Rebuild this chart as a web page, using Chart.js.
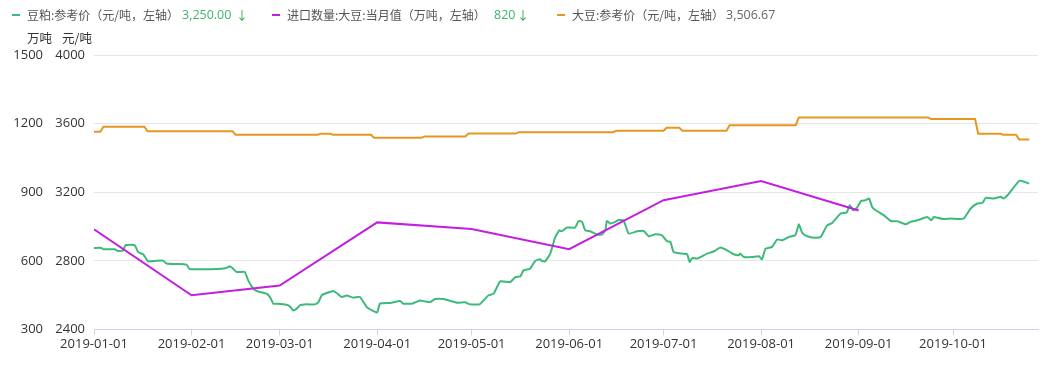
<!DOCTYPE html>
<html>
<head>
<meta charset="utf-8">
<script src="https://cdn.jsdelivr.net/npm/chart.js@4"></script>
<style>
  html, body { margin:0; padding:0; background:#fff; }
  #wrap { position:relative; width:1059px; height:365px; font-family:"Noto Sans CJK SC","Microsoft YaHei",sans-serif; }
  canvas { position:absolute; left:0; top:0; }
  .lg { position:absolute; top:6px; font-size:12px; color:#555; white-space:nowrap; line-height:18px; }
  .num { font-family:"Open Sans","Noto Sans CJK SC",sans-serif; font-size:12.5px; }
  .dash { position:absolute; top:14px; width:8px; height:2px; }
  .up { color:#3cb371; }
  .arr { color:#2e9e3e; }
</style>
</head>
<body>
<div id="wrap">
  <canvas id="c" width="1059" height="365"></canvas>
  <div class="dash" style="left:12px;background:#3dba7a"></div>
  <div class="lg" style="left:27px">豆粕:参考价（元/吨，左轴）</div>
  <div class="lg num up" style="left:182px">3,250.00</div>
  <div class="lg arr" style="left:236px">↓</div>
  <div class="dash" style="left:272px;background:#c21fe0"></div>
  <div class="lg" style="left:287px">进口数量:大豆:当月值（万吨，左轴）</div>
  <div class="lg num up" style="left:494px">820</div>
  <div class="lg arr" style="left:517px">↓</div>
  <div class="dash" style="left:557px;background:#e8971e"></div>
  <div class="lg" style="left:572px">大豆:参考价（元/吨，左轴）</div>
  <div class="lg num" style="left:726px;color:#666">3,506.67</div>
</div>
<script>
// x values are days since 2019-01-01
const tickDays = [0,31,59,90,120,151,181,212,243,273];
const tickLabels = ["2019-01-01","2019-02-01","2019-03-01","2019-04-01","2019-05-01","2019-06-01","2019-07-01","2019-08-01","2019-09-01","2019-10-01"];

const importDay = [0,31,59,90,120,151,181,212,243];
const importQty = [738,449,492,768,739,651,865,949,820];

const soyDay = [0,2,3,16,17,44,45,71,72,75,76,88,89,104,105,118,119,134,135,165,166,181,182,186,187,201,202,223,224,265,266,280,281,288,289,293,294,297.2];
const soyPrice = [3552,3552,3582,3582,3556,3556,3535,3535,3541,3541,3535,3535,3517,3517,3525,3525,3542,3542,3550,3550,3558,3558,3576,3576,3558,3558,3591,3591,3636,3636,3627,3627,3541,3541,3535,3535,3508,3508];

const mealDay = [0,2.4,2.9,6.6,7.6,9.2,10.1,12.9,14,15.6,17.2,19.3,22,23,26.2,29.4,30.4,38.9,42.1,43.2,44.2,45.3,47.9,49,50.6,51.7,54.9,55.9,57,58.5,61.2,62.3,63.3,64.4,65.4,67.6,70.2,71.3,72.4,73.9,75,76,77.1,78.7,80.3,82.4,84.5,86.7,88.8,90,90.9,94.1,97.3,98.3,101,103.6,105.2,106.8,108.4,111,115.3,117.9,119.5,122.5,123.8,125.4,127,129.1,132.3,133.9,135.5,136.5,138.6,140.2,141.8,142.3,143.4,145,146.6,147.9,148.7,150.3,152.9,154,155.1,156.1,157.7,159.8,161.4,162.5,163,164.1,165.7,166.7,168.3,169.9,172.6,174.7,176.3,178.4,180.5,182.1,183.2,184.2,186.9,188.5,189.3,190.1,191.7,194.8,196.9,199.1,201.2,203.3,204.9,205.4,206.5,209.2,211.3,212.3,213.4,215.5,217.1,218.7,220.8,222.9,224,225.1,226.7,228.8,230.9,233,234.6,237.3,239.2,240.2,241.3,242.3,243.8,245.2,246.3,247.3,248.4,251,253.2,255.3,257.9,259.5,261.7,264.8,266.1,266.9,269.6,272.3,276.3,278.6,280.7,282.3,283.4,286,288.2,289,290.3,294,295.1,297.2];
const mealPrice = [2875,2875,2867,2867,2857,2861,2892,2892,2851,2838,2797,2799,2801,2784,2781,2778,2752,2752,2758,2768,2754,2735,2735,2686,2638,2624,2608,2589,2550,2550,2544,2534,2511,2521,2540,2546,2546,2559,2599,2612,2618,2624,2612,2589,2597,2585,2589,2530,2507,2499,2550,2554,2565,2550,2550,2569,2563,2559,2577,2577,2556,2558,2546,2546,2569,2599,2608,2680,2676,2705,2709,2744,2754,2799,2809,2799,2797,2842,2939,2978,2972,2994,2994,3032,3027,2978,2972,2953,2953,2978,3032,3017,3027,3038,3036,2959,2972,2974,2943,2955,2949,2914,2910,2851,2842,2838,2793,2816,2813,2842,2854,2877,2861,2838,2832,2842,2822,2822,2826,2809,2871,2881,2924,2920,2939,2949,3013,2962,2943,2935,2939,3007,3021,3076,3081,3124,3095,3105,3149,3153,3163,3114,3095,3066,3032,3031,3013,3027,3036,3056,3036,3056,3044,3046,3046,3105,3134,3137,3167,3163,3173,3163,3182,3266,3264,3250];

const pts = (xs, ys) => xs.map((x, i) => ({x, y: ys[i]}));
const FONT = '"Noto Sans CJK SC","Microsoft YaHei",sans-serif';
const NUMFONT = '"Open Sans","Noto Sans CJK SC",sans-serif';

const unitTitles = {
  id: 'unitTitles',
  afterDraw(chart) {
    const ctx = chart.ctx;
    ctx.save();
    ctx.font = '12.5px ' + FONT;
    ctx.fillStyle = '#333';
    ctx.textBaseline = 'middle';
    ctx.textAlign = 'left';
    ctx.fillText('万吨', 27, 38);
    ctx.fillText('元/吨', 62, 38);
    ctx.restore();
  }
};

new Chart(document.getElementById('c'), {
  type: 'line',
  data: {
    datasets: [
      { label: '进口数量:大豆:当月值', data: pts(importDay, importQty), yAxisID: 'yQty', borderColor: '#c21fe0', borderWidth: 2, pointRadius: 0, tension: 0 },
      { label: '豆粕:参考价', data: pts(mealDay, mealPrice), yAxisID: 'yPrice', borderColor: '#3dba7a', borderWidth: 2, pointRadius: 0, tension: 0.15 },
      { label: '大豆:参考价', data: pts(soyDay, soyPrice), yAxisID: 'yPrice', borderColor: '#e8971e', borderWidth: 2, pointRadius: 0, tension: 0 }
    ]
  },
  options: {
    responsive: false,
    animation: false,
    layout: { padding: { top: 55, right: 21, left: 0, bottom: 12 } },
    plugins: { legend: { display: false }, tooltip: { enabled: false } },
    scales: {
      x: {
        type: 'linear', min: 0, max: 300,
        afterBuildTicks: s => { s.ticks = tickDays.map(v => ({ value: v })); },
        ticks: { autoSkip: false, maxRotation: 0, color: '#333', font: { size: 13, family: NUMFONT }, padding: 1,
          callback: v => tickLabels[tickDays.indexOf(v)] },
        grid: { drawOnChartArea: false, color: '#ccd6eb', tickLength: 6 },
        border: { color: '#ccd6eb' }
      },
      yQty: {
        position: 'left', weight: 1, min: 300, max: 1500,
        afterBuildTicks: s => { s.ticks = [300,600,900,1200,1500].map(v => ({ value: v })); },
        afterFit: s => { s.width = 50; },
        ticks: { color: '#333', font: { size: 13, family: NUMFONT }, padding: 7, callback: v => String(v) },
        grid: { display: false, drawTicks: false },
        border: { display: false }
      },
      yPrice: {
        position: 'left', weight: 0, min: 2400, max: 4000,
        afterBuildTicks: s => { s.ticks = [2400,2800,3200,3600,4000].map(v => ({ value: v })); },
        afterFit: s => { s.width = 44; },
        ticks: { color: '#333', font: { size: 13, family: NUMFONT }, padding: 9, callback: v => String(v) },
        grid: { color: '#e6e6e6', drawTicks: false },
        border: { display: false }
      }
    }
  },
  plugins: [unitTitles]
});
</script>
</body>
</html>
